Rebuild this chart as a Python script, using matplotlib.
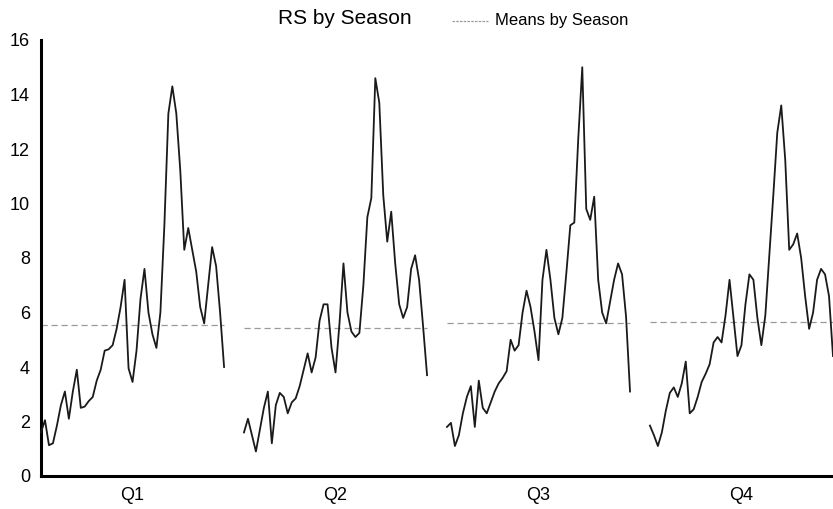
import numpy as np
import matplotlib
matplotlib.use("Agg")
import matplotlib.pyplot as plt

plt.rcParams["font.family"] = ["Liberation Sans", "DejaVu Sans"]

# ---- data (RS, one line per quarter) ----
seasons = ["Q1", "Q2", "Q3", "Q4"]

rs_q1 = [1.6, 2.05, 1.13, 1.2, 1.85, 2.6, 3.1, 2.1, 3.1, 3.9,
         2.5, 2.55, 2.75, 2.9, 3.5, 3.9, 4.6, 4.65, 4.8, 5.4,
         6.2, 7.2, 3.95, 3.45, 4.6, 6.5, 7.6, 6.0, 5.2, 4.7,
         6.0, 9.2, 13.3, 14.3, 13.3, 11.2, 8.3, 9.1, 8.3, 7.5,
         6.2, 5.6, 7.0, 8.4, 7.7, 6.0, 4.0]

rs_q2 = [1.6, 2.1, 1.5, 0.9, 1.7, 2.5, 3.1, 1.2, 2.6, 3.05,
         2.9, 2.3, 2.7, 2.85, 3.3, 3.9, 4.5, 3.8, 4.35, 5.7,
         6.3, 6.3, 4.7, 3.8, 5.6, 7.8, 6.0, 5.3, 5.1, 5.25,
         7.0, 9.5, 10.2, 14.6, 13.7, 10.3, 8.6, 9.7, 7.8, 6.3,
         5.8, 6.2, 7.6, 8.1, 7.2, 5.5, 3.7]

rs_q3 = [1.8, 1.95, 1.1, 1.5, 2.3, 2.9, 3.3, 1.8, 3.5, 2.5,
         2.3, 2.7, 3.1, 3.4, 3.6, 3.85, 5.0, 4.6, 4.8, 6.0,
         6.8, 6.2, 5.3, 4.25, 7.2, 8.3, 7.2, 5.8, 5.2, 5.8,
         7.45, 9.2, 9.3, 12.4, 15.0, 9.8, 9.4, 10.25, 7.2, 6.0,
         5.6, 6.4, 7.2, 7.8, 7.4, 5.85, 3.1]

rs_q4 = [1.85, 1.5, 1.1, 1.6, 2.4, 3.05, 3.25, 2.9, 3.4, 4.2,
         2.3, 2.45, 2.9, 3.45, 3.75, 4.1, 4.9, 5.1, 4.9, 5.9,
         7.2, 5.8, 4.4, 4.8, 6.3, 7.4, 7.2, 5.8, 4.8, 5.9,
         8.1, 10.3, 12.6, 13.6, 11.6, 8.3, 8.5, 8.9, 8.0, 6.6,
         5.4, 6.0, 7.2, 7.6, 7.4, 6.6, 4.4]

series = [rs_q1, rs_q2, rs_q3, rs_q4]
yticks = [0, 2, 4, 6, 8, 10, 12, 14, 16]

# each season block: n obs followed by a small gap
n_obs = len(rs_q1)
period = n_obs + 4

fig = plt.figure(figsize=(8.33, 5.09), dpi=100)
ax = fig.add_axes([41 / 833, 33 / 509, 792 / 833, 436 / 509])

centers = []
for k, vals in enumerate(series):
    x = k * period + np.arange(len(vals))
    ax.plot(x, vals, color="#1a1a1a", lw=1.3, solid_joinstyle="round",
            zorder=3, clip_on=False)
    ax.plot([x[0], x[-1]], [np.mean(vals)] * 2, color="#9a9a9a", lw=0.9,
            ls=(0, (5, 3)), zorder=2)
    centers.append(x.mean())

ax.set_xlim(0, 3 * period + n_obs - 1)
ax.set_ylim(0, 16)
ax.set_yticks(yticks)
ax.set_yticklabels([str(t) for t in yticks])
ax.set_xticks(centers)
ax.set_xticklabels(seasons)
ax.tick_params(axis="y", length=0, pad=8, labelsize=13)
ax.tick_params(axis="x", length=0, pad=8, labelsize=13)

for side in ("top", "right"):
    ax.spines[side].set_visible(False)
for side in ("left", "bottom"):
    ax.spines[side].set_linewidth(2.2)
    ax.spines[side].set_color("black")

# header: title plus the legend entry beside it
fig.text(278 / 833, 1 - 18 / 509, "RS by Season", fontsize=15,
         ha="left", va="center")
fig.add_artist(plt.Line2D([452 / 833, 488 / 833], [1 - 21 / 509] * 2,
                          color="#9a9a9a", lw=0.9, ls=(0, (2, 1))))
fig.text(495 / 833, 1 - 20 / 509, "Means by Season", fontsize=12,
         ha="left", va="center")

fig.savefig("out.png", dpi=100)
